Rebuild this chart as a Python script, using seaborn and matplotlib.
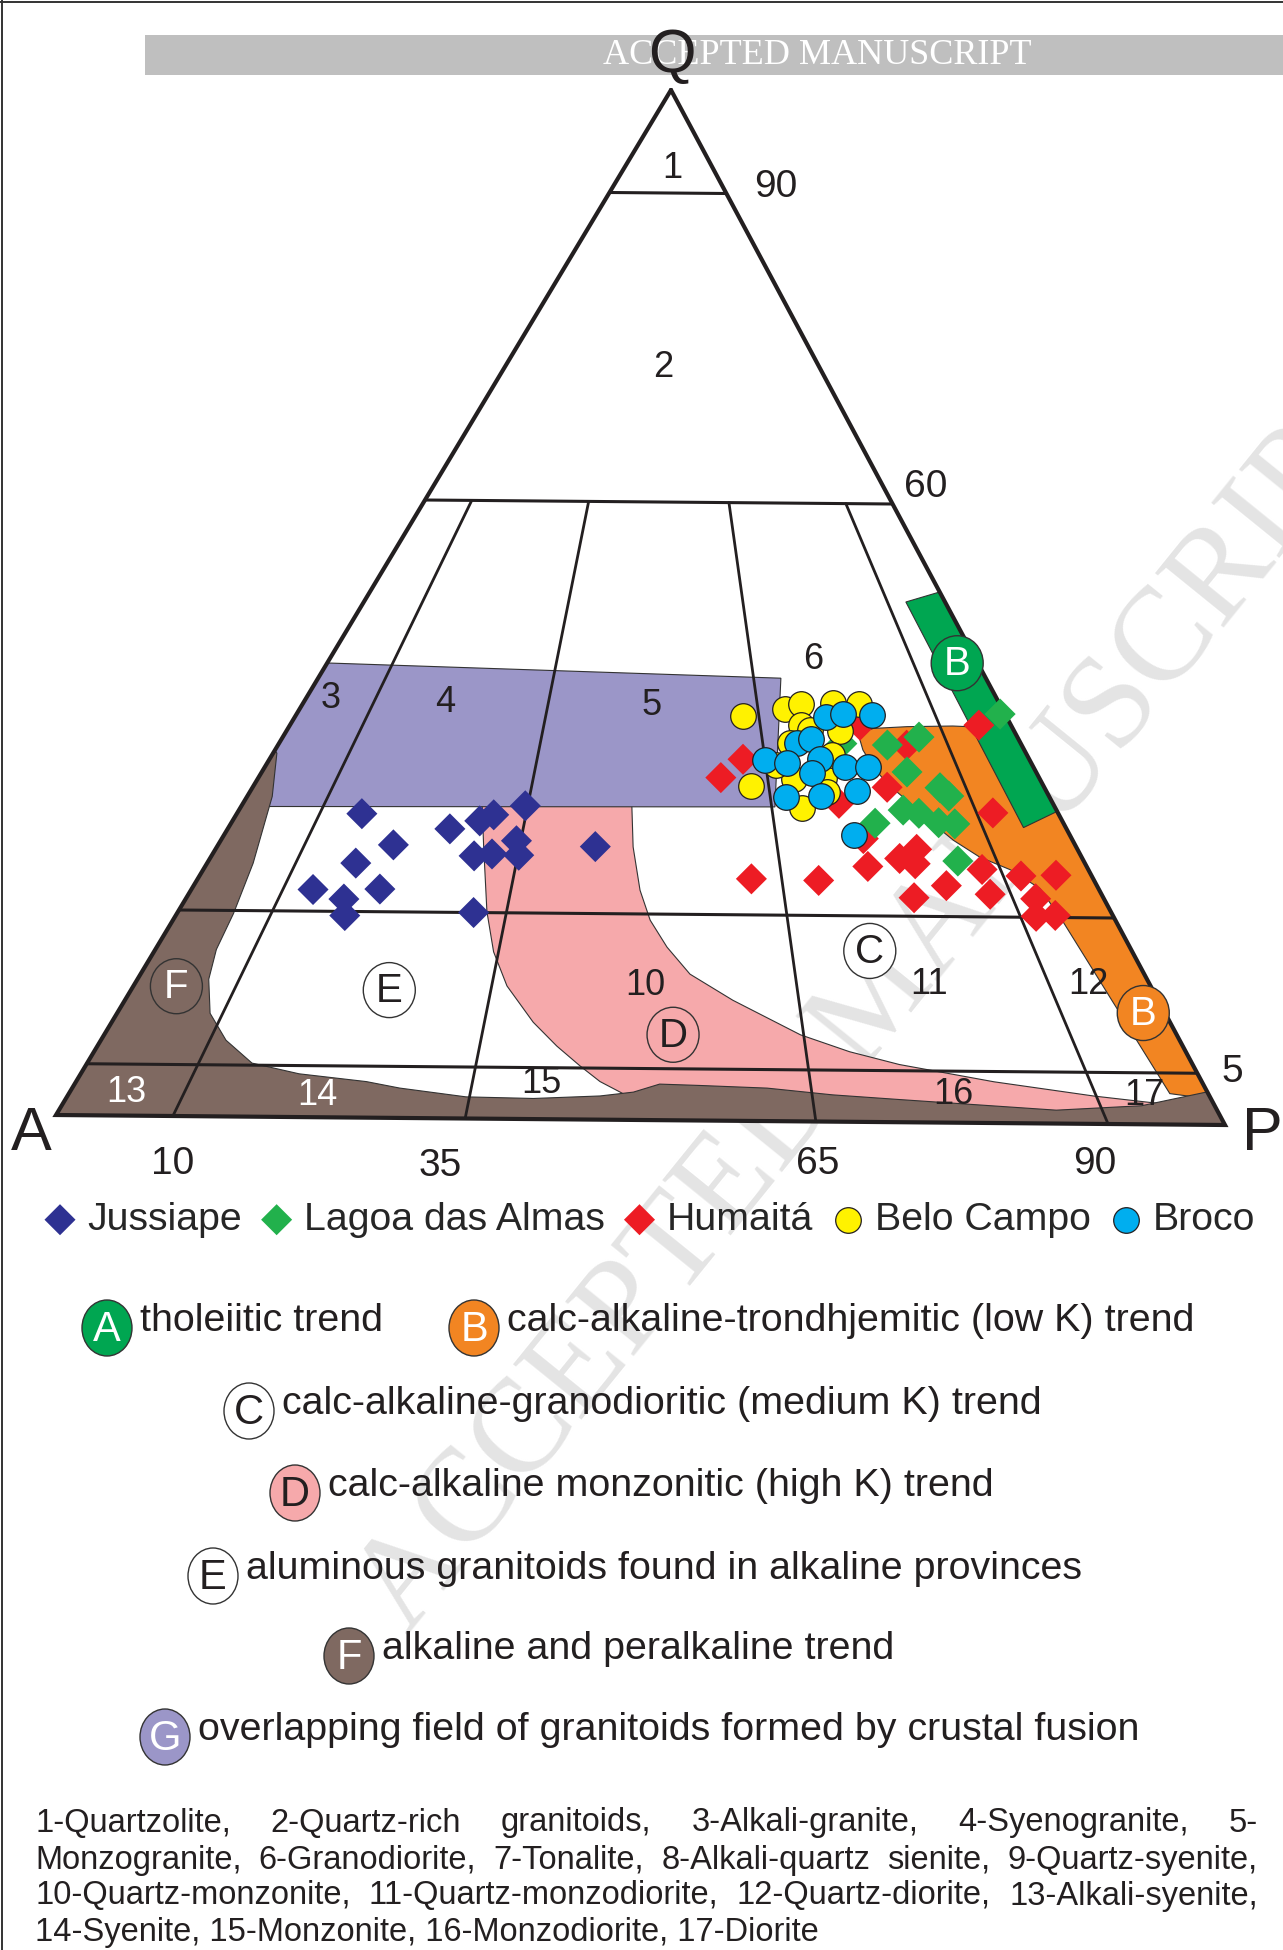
import numpy as np
import pandas as pd
import seaborn as sns
import matplotlib.pyplot as plt
from matplotlib.patches import Ellipse, Rectangle, Polygon

# ternary values: Q (%) and P/(A+P) (%) for each sample
JUSS_Q = [29.5, 26.5, 24.7, 22.1, 21.2, 22.2, 19.6, 28.1, 28.9, 29.5, 30.4, 25.5, 25.7, 27.0, 25.6, 26.5, 20.0]
JUSS_R = [15.1, 20.3, 16.8, 13.3, 17.1, 20.6, 17.9, 26.3, 29.6, 31.1, 34.7, 30.0, 32.0, 34.5, 35.1, 43.8, 31.5]

LAGOA_Q = [36.7, 36.6, 37.4, 39.7, 34.0, 32.5, 31.7, 30.3, 30.0, 29.0, 29.1, 29.0, 25.4]
LAGOA_R = [75.7, 81.8, 86.5, 99.3, 83.2, 86.7, 87.4, 81.1, 82.9, 77.2, 84.9, 86.8, 85.5]

HUM_Q = [33.3, 35.1, 23.5, 23.4, 38.5, 30.9, 24.8, 27.5, 32.5, 36.6, 25.6, 26.5,
         25.1, 21.8, 23.0, 38.6, 24.6, 22.2, 30.1, 24.0, 21.8, 24.1, 20.1, 20.2]
HUM_R = [59.0, 62.1, 61.6, 69.1, 78.9, 73.4, 75.0, 75.3, 80.0, 84.4, 78.9, 81.2,
         80.5, 79.2, 83.2, 95.5, 87.9, 87.7, 92.0, 92.0, 92.5, 96.0, 91.7, 93.8]

BELO_Q = [39.3, 32.5, 40.0, 40.5, 38.5, 40.6, 40.6, 37.9, 36.7, 38.0, 33.2, 33.3, 32.0, 30.4, 35.6, 34.6]
BELO_R = [62.7, 62.8, 68.9, 71.3, 70.7, 76.0, 79.7, 75.9, 68.7, 71.8, 68.3, 72.2, 72.2, 68.7, 74.0, 66.4]

BROCO_Q = [39.3, 39.6, 39.5, 36.7, 37.1, 35.0, 34.8, 35.2, 34.4, 34.5, 33.8, 31.5, 31.6, 32.1, 27.8]
BROCO_R = [74.5, 76.9, 81.0, 69.6, 71.7, 65.0, 67.8, 72.3, 75.3, 78.3, 70.8, 67.0, 71.4, 76.0, 74.3]

# trend fields, (Q, P/(A+P)) vertices
FIELD_D = [(31.5, 29.3), (30.4, 29.4), (26.5, 30.8), (20.1, 32.9), (16.2, 34.5), (12.9, 36.5), (9.4, 39.6),
           (7.1, 42.1), (5.2, 44.4), (3.7, 46.3), (2.6, 48.3), (1.0, 50), (0, 51), (0, 97), (2.0, 97),
           (2.0, 95.5), (2.7, 89.8), (4.0, 81.4), (5.6, 73.3), (6.8, 69.0), (8.4, 64.7), (11.7, 58.6),
           (14.2, 54.5), (16.8, 52.2), (19.4, 50.4), (22.3, 49.2), (26.5, 48.2), (30.4, 47.8), (31.5, 47.8)]
FIELD_G = [(44.1, 0), (43.0, 69.1), (30.5, 65.4), (30.1, 0)]
FIELD_B = [(38.6, 100), (38.4, 96.0), (38.5, 91.8), (38.4, 85.4), (38.2, 80.6), (37.8, 78.9), (37.3, 78.3),
           (36.1, 78.3), (34.5, 79.0), (32.9, 80.1), (31.3, 81.9), (29.0, 84.2), (27.4, 85.9), (25.8, 88.2),
           (24.6, 91.1), (22.8, 93.5), (19.7, 94.3), (3.0, 96.6), (2.5, 100)]
FIELD_A = [(50.5, 93.2), (51.5, 100), (30.3, 100), (28.7, 94.9)]
FIELD_F = [(35.6, 0), (35.3, 0.5), (31.1, 3.1), (24.6, 5.2), (19.7, 6.0), (16.2, 6.2), (13.3, 7.0),
           (10.0, 8.8), (7.4, 11.5), (5.2, 14.8), (4.2, 19.4), (3.5, 25.6), (2.9, 28.7), (2.1, 34.7),
           (2.0, 40.6), (2.3, 46.4), (2.7, 49.3), (3.5, 51.6), (3.4, 55.2), (3.2, 61.1), (2.6, 66.8),
           (2.2, 72.6), (1.3, 86.0), (1.8, 93.6), (3.2, 100), (0, 100), (0, 0)]

Q_LINES = [90, 60, 20, 5]
R_LINES = [10, 35, 65, 90]

FIELD_NUMS = [("1", 92.4, 54.5), ("2", 73.1, 50.0), ("3", 40.7, 3.5), ("4", 40.4, 20.2), ("5", 40.2, 49.8),
              ("6", 44.8, 74.6), ("10", 13.1, 50.1), ("11", 13.4, 78.1), ("12", 13.5, 93.9),
              ("13", 2.2, 5.0), ("14", 2.1, 21.7), ("15", 3.5, 41.1), ("16", 2.7, 77.4), ("17", 2.8, 94.3)]

BADGES_ON_PLOT = [("B", 44.6, 96.8, "#00A651", "white"), ("B", 10.8, 97.9, "#F28522", "white"),
                  ("C", 16.6, 73.0, "white", "#231f20"), ("D", 8.3, 52.8, "none", "#231f20"),
                  ("E", 12.4, 25.1, "white", "#231f20"), ("F", 12.6, 4.2, "none", "white")]

TREND_LETTERS = ["A", "B", "C", "D", "E", "F", "G"]
TREND_TEXT = ["tholeiitic trend", "calc-alkaline-trondhjemitic (low K) trend",
              "calc-alkaline-granodioritic (medium K) trend", "calc-alkaline monzonitic (high K) trend",
              "aluminous granitoids found in alkaline provinces", "alkaline and peralkaline trend",
              "overlapping field of granitoids formed by crustal fusion"]

NOTE_LINES = ["1-Quartzolite, 2-Quartz-rich granitoids, 3-Alkali-granite, 4-Syenogranite, 5-",
              "Monzogranite, 6-Granodiorite, 7-Tonalite, 8-Alkali-quartz sienite, 9-Quartz-syenite,",
              "10-Quartz-monzonite, 11-Quartz-monzodiorite, 12-Quartz-diorite,  13-Alkali-syenite,",
              "14-Syenite, 15-Monzonite, 16-Monzodiorite, 17-Diorite"]

NAVY, GREEN, RED, YELLOW, BLUE = "#2E3192", "#22B14C", "#ED1C24", "#FFF200", "#00AEEF"
C_PINK, C_PURPLE, C_ORANGE, C_DKGREEN, C_BROWN = "#F6A9AB", "#9B96C8", "#F28522", "#00A651", "#7F6961"
INK = "#231f20"

# triangle corners on the page (pixels)
QV, AV, PV = (671, 90), (56, 1115), (1225, 1125)


def tern(q, r):
    q = np.asarray(q, float) / 100
    r = np.asarray(r, float) / 100
    bx = AV[0] + r * (PV[0] - AV[0])
    by = AV[1] + r * (PV[1] - AV[1])
    return q * QV[0] + (1 - q) * bx, q * QV[1] + (1 - q) * by


sns.set_theme(style="white")
plt.rcParams['font.family'] = ['Liberation Sans Narrow', 'Liberation Sans', 'DejaVu Sans']

fig = plt.figure(figsize=(12.83, 19.5), dpi=100)
ax = fig.add_axes([0, 0, 1, 1])
ax.set_xlim(0, 1283)
ax.set_ylim(1950, 0)
ax.axis('off')
renderer = fig.canvas.get_renderer()


def text_width(s, fs, **kw):
    t = ax.text(0, 0, s, fontsize=fs, **kw)
    w = t.get_window_extent(renderer).width
    t.remove()
    return w


# page frame and banner
ax.plot([2, 2], [0, 1950], color="#333333", lw=1.4)
ax.plot([0, 1283], [2, 2], color="#333333", lw=1.4)
ax.add_patch(Rectangle((145, 35), 1138, 40, facecolor="#bfbfbf", edgecolor="none"))
ax.text(817, 55, "ACCEPTED MANUSCRIPT", fontsize=26, family="Liberation Serif", color="white",
        ha="center", va="center")
ax.text(880, 1000, "ACCEPTED MANUSCRIPT", fontsize=96, family="Liberation Serif", color="#e4e4e4",
        ha="center", va="center", rotation=51, rotation_mode="anchor", zorder=0.5)

# fields
for verts, col, z in [(FIELD_D, C_PINK, 1.0), (FIELD_G, C_PURPLE, 1.1), (FIELD_B, C_ORANGE, 1.2),
                      (FIELD_A, C_DKGREEN, 1.3), (FIELD_F, C_BROWN, 1.4)]:
    q, r = zip(*verts)
    x, y = tern(q, r)
    ax.add_patch(Polygon(np.column_stack([x, y]), closed=True, facecolor=col,
                         edgecolor="#333333", lw=0.8, zorder=z))

# QAP grid
x, y = tern([100, 0, 0, 100], [0, 0, 100, 0])
ax.plot(x, y, color=INK, lw=3.0, zorder=2.2, solid_joinstyle="miter")
for q in Q_LINES:
    x, y = tern([q, q], [0, 100])
    ax.plot(x, y, color=INK, lw=2.2, zorder=2.1)
for r in R_LINES:
    x, y = tern([60, 0], [r, r])
    ax.plot(x, y, color=INK, lw=2.0, zorder=2.1)

for s, q, r in FIELD_NUMS:
    x, y = tern(q, r)
    ax.text(x, y, s, fontsize=26, ha="center", va="center", zorder=3,
            color="white" if s in ("13", "14") else INK)

for s, q, r, fc, tc in BADGES_ON_PLOT:
    x, y = tern(q, r)
    ax.add_patch(Ellipse((x, y), 52, 55, facecolor=fc, edgecolor="#333333", lw=1.0, zorder=3))
    ax.text(x, y + 1, s, fontsize=29, ha="center", va="center", color=tc, zorder=3.1)

# corner letters and scale numbers
for s, x, y in [("Q", 672, 56), ("A", 31, 1134), ("P", 1262, 1134)]:
    ax.text(x, y, s, fontsize=44, ha="center", va="center", color=INK, zorder=3)
for s, x, y in [("90", 776, 187), ("60", 926, 487), ("5", 1232, 1072), ("10", 173, 1164),
                ("35", 440, 1166), ("65", 818, 1164), ("90", 1095, 1164)]:
    ax.text(x, y, s, fontsize=28, ha="center", va="center", color=INK, zorder=3)

# samples
series = [("Jussiape", JUSS_Q, JUSS_R, "D", NAVY, 5),
          ("Humaitá", HUM_Q, HUM_R, "D", RED, 6),
          ("Lagoa das Almas", LAGOA_Q, LAGOA_R, "D", GREEN, 7),
          ("Belo Campo", BELO_Q, BELO_R, "o", YELLOW, 8),
          ("Broco", BROCO_Q, BROCO_R, "o", BLUE, 9)]
for name, qs, rs, mk, col, z in series:
    x, y = tern(qs, rs)
    df = pd.DataFrame({"x": x, "y": y})
    circ = mk == "o"
    sns.scatterplot(data=df, x="x", y="y", marker=mk, color=col, s=340 if circ else 250,
                    edgecolor=INK if circ else "none", linewidth=0.9 if circ else 0,
                    label=name, zorder=z, ax=ax)

fs_leg = 27 * 301 / text_width("Lagoa das Almas", 27)
handles, labels = ax.get_legend_handles_labels()
hmap = dict(zip(labels, handles))
order = ["Jussiape", "Lagoa das Almas", "Humaitá", "Belo Campo", "Broco"]
em = fs_leg * 100 / 72
ax.legend([hmap[k] for k in order], order, ncol=5, loc="center left",
          bbox_to_anchor=(45 / 1283, 1 - 1220 / 1950), frameon=False, fontsize=fs_leg,
          handlelength=30 / em, handletextpad=12 / em, columnspacing=20 / em,
          borderpad=0, borderaxespad=0, scatterpoints=1)

# trend key
badge_fc = ["#00A651", "#F28522", "white", "#F6A9AB", "white", "#7F6961", "#9B96C8"]
badge_tc = ["white", "white", INK, INK, INK, "white", "white"]
badge_xy = [(107, 1328), (474, 1328), (249, 1411), (295, 1493), (213, 1576), (349, 1656), (165, 1737)]
fs_key = 27 * 940 / text_width(TREND_TEXT[6], 27)
for letter, txt, fc, tc, (bx, by) in zip(TREND_LETTERS, TREND_TEXT, badge_fc, badge_tc, badge_xy):
    ax.add_patch(Ellipse((bx, by), 50, 56, facecolor=fc, edgecolor="#333333", lw=1.0))
    ax.text(bx, by + 2, letter, fontsize=30, ha="center", va="center", color=tc)
    ax.text(bx + 33, by - 7, txt, fontsize=fs_key, ha="left", va="center", color=INK)

# rock-name note, justified
fs_note = 24 * 783 / text_width(NOTE_LINES[3], 24)
x0, x1 = 35, 1258
for i, (line, yy) in enumerate(zip(NOTE_LINES, [1823, 1860, 1896, 1933])):
    if i == len(NOTE_LINES) - 1:
        ax.text(x0, yy, line, fontsize=fs_note, ha="left", va="center", color=INK)
        continue
    words = line.split()
    ws = [text_width(w, fs_note) for w in words]
    gap = (x1 - x0 - sum(ws)) / (len(words) - 1)
    xx = x0
    for w, wd in zip(words, ws):
        ax.text(xx, yy, w, fontsize=fs_note, ha="left", va="center", color=INK)
        xx += wd + gap

fig.savefig("out.png", dpi=100)
